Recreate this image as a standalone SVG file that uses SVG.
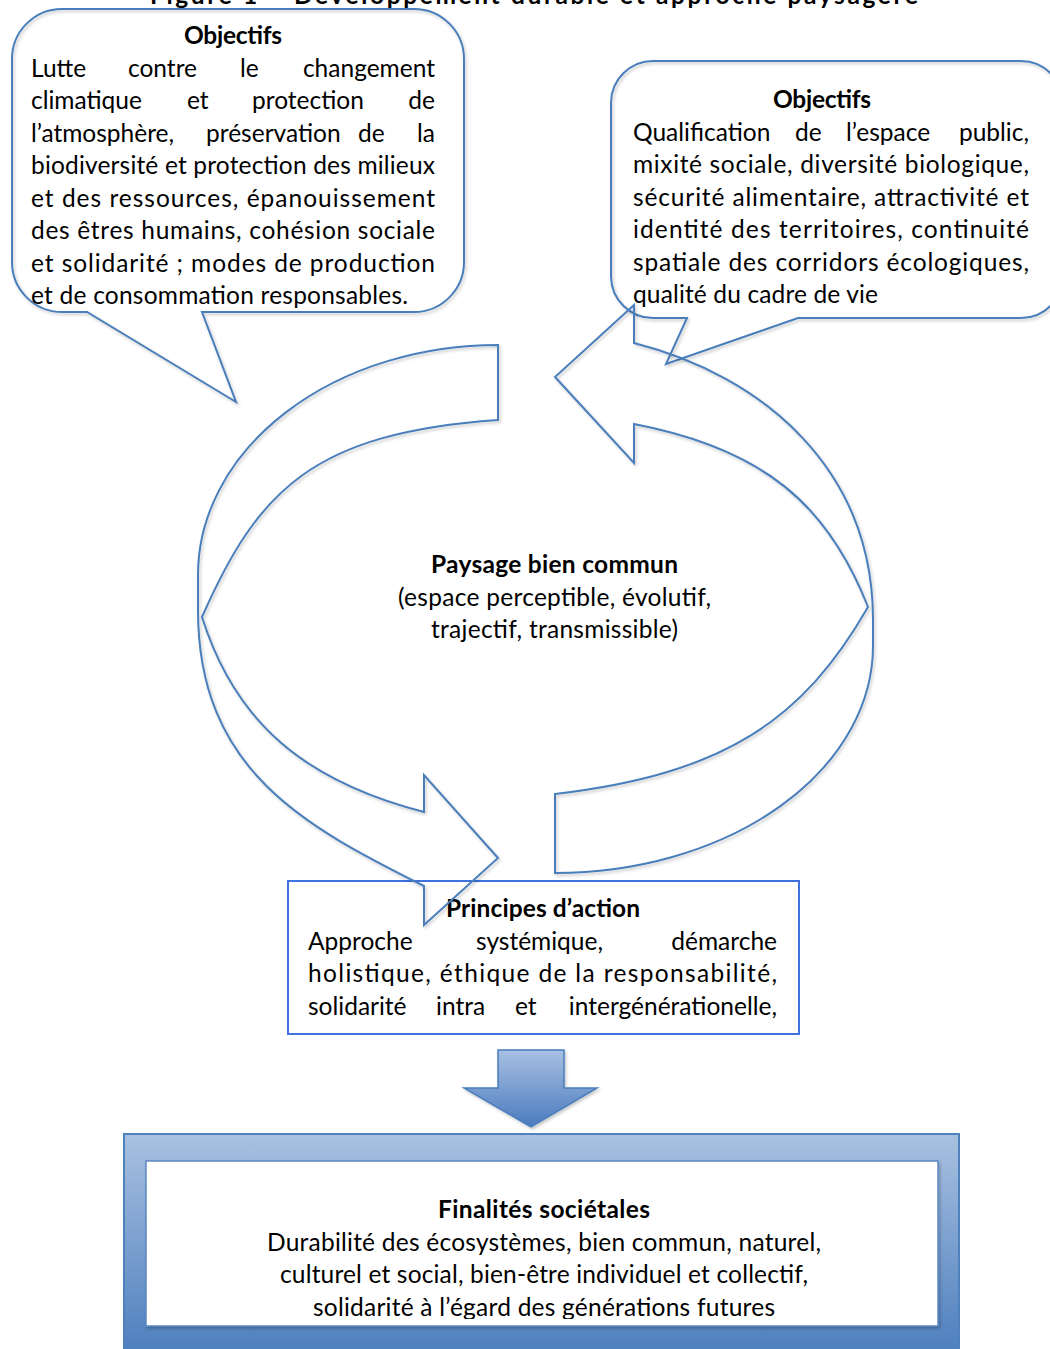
<svg xmlns="http://www.w3.org/2000/svg" width="1050" height="1349" viewBox="0 0 1050 1349">
<style>
.t{font-family:Lato,"Liberation Sans",sans-serif;font-size:24.5px;fill:#000}
.b{font-weight:bold}
.ln{fill:none;stroke:#4a7ebb;stroke-width:2;stroke-linejoin:miter}
</style>
<defs>
<filter id="sh" x="-10%" y="-10%" width="120%" height="120%">
<feDropShadow dx="1.5" dy="2" stdDeviation="1.5" flood-color="#000" flood-opacity="0.22"/>
</filter>
<linearGradient id="gBox" gradientUnits="userSpaceOnUse" x1="0" y1="1134" x2="0" y2="1349">
<stop offset="0" stop-color="#a9c1e1"/><stop offset="1" stop-color="#4f80be"/>
</linearGradient>
<linearGradient id="gArr" gradientUnits="userSpaceOnUse" x1="0" y1="1050" x2="0" y2="1127">
<stop offset="0" stop-color="#a8c0e2"/><stop offset="1" stop-color="#4a7bbf"/>
</linearGradient>
<clipPath id="clipFin"><rect x="146" y="1161" width="792" height="158"/></clipPath>
</defs>
<rect width="1050" height="1349" fill="#fff"/>

<g id="title">
<text class="t b" x="534" y="4" text-anchor="middle" textLength="768">Figure 1 – Développement durable et approche paysagère</text>
</g>

<g id="callout-left">
<path class="ln" filter="url(#sh)" fill="#fff" d="M62,9 H414 A50,50 0 0 1 464,59 V262 A50,50 0 0 1 414,312 H202 L236,402 L87,312 H62 A50,50 0 0 1 12,262 V59 A50,50 0 0 1 62,9 Z"/>
<text class="t b" x="233" y="44" text-anchor="middle" textLength="98">Objectifs</text>
<text class="t" y="77"><tspan x="31">Lutte</tspan><tspan x="128">contre</tspan><tspan x="240">le</tspan></text>
<text class="t" x="435" y="77" text-anchor="end">changement</text>
<text class="t" y="109"><tspan x="31">climatique</tspan><tspan x="187">et</tspan><tspan x="252">protection</tspan></text>
<text class="t" x="435" y="109" text-anchor="end">de</text>
<text class="t" y="142"><tspan x="31">l’atmosphère,</tspan><tspan x="206">préservation</tspan><tspan x="358">de</tspan></text>
<text class="t" x="435" y="142" text-anchor="end">la</text>
<text class="t" x="31" y="174" textLength="404">biodiversité et protection des milieux</text>
<text class="t" x="31" y="207" textLength="404">et des ressources, épanouissement</text>
<text class="t" x="31" y="239" textLength="404">des êtres humains, cohésion sociale</text>
<text class="t" x="31" y="272" textLength="404">et solidarité ; modes de production</text>
<text class="t" x="31" y="304" textLength="377">et de consommation responsables.</text>
</g>

<g id="callout-right">
<path class="ln" filter="url(#sh)" fill="#fff" d="M653,61 H1021 A42,42 0 0 1 1063,103 V276 A42,42 0 0 1 1021,318 H798 L666,364 L687,318 H653 A42,42 0 0 1 611,276 V103 A42,42 0 0 1 653,61 Z"/>
<text class="t b" x="822" y="108" text-anchor="middle" textLength="98">Objectifs</text>
<text class="t" y="141"><tspan x="633">Qualification</tspan><tspan x="795">de</tspan><tspan x="846">l’espace</tspan></text>
<text class="t" x="1029" y="141" text-anchor="end">public,</text>
<text class="t" x="633" y="173" textLength="396">mixité sociale, diversité biologique,</text>
<text class="t" x="633" y="206" textLength="396">sécurité alimentaire, attractivité et</text>
<text class="t" x="633" y="238" textLength="396">identité des territoires, continuité</text>
<text class="t" x="633" y="271" textLength="396">spatiale des corridors écologiques,</text>
<text class="t" x="633" y="303" textLength="245">qualité du cadre de vie</text>
</g>

<g id="paysage">
<text class="t b" x="554.5" y="573" text-anchor="middle" textLength="247">Paysage bien commun</text>
<text class="t" x="554.5" y="606" text-anchor="middle" textLength="313">(espace perceptible, évolutif,</text>
<text class="t" x="554.5" y="638" text-anchor="middle" textLength="247">trajectif, transmissible)</text>
</g>

<g id="principes">
<rect x="288" y="881" width="511" height="153" fill="#fff" stroke="#3d72e0" stroke-width="2"/>
<text class="t b" x="543" y="917" text-anchor="middle" textLength="194">Principes d’action</text>
<text class="t" y="950"><tspan x="308">Approche</tspan><tspan x="476">systémique,</tspan></text>
<text class="t" x="777" y="950" text-anchor="end">démarche</text>
<text class="t" x="308" y="982" textLength="469">holistique, éthique de la responsabilité,</text>
<text class="t" y="1015"><tspan x="308">solidarité</tspan><tspan x="436">intra</tspan><tspan x="515">et</tspan></text>
<text class="t" x="777" y="1015" text-anchor="end">intergénérationelle,</text>
</g>

<g id="finalites">
<rect x="124" y="1134" width="835" height="240" fill="url(#gBox)" stroke="#4f81bd" stroke-width="2"/>
<rect x="146" y="1161" width="792" height="165" fill="#fff" stroke="#5b88c4" stroke-width="1.5" filter="url(#sh)"/>
<g clip-path="url(#clipFin)">
<text class="t b" x="544" y="1218" text-anchor="middle" textLength="212">Finalités  sociétales</text>
<text class="t" x="544" y="1251" text-anchor="middle" textLength="554">Durabilité des écosystèmes, bien commun, naturel,</text>
<text class="t" x="544" y="1283" text-anchor="middle" textLength="528">culturel et social, bien-être individuel et collectif,</text>
<text class="t" x="544" y="1316" text-anchor="middle" textLength="462">solidarité à l’égard des générations futures</text>
</g>
</g>

<g id="connectors">
<path id="arrow-left" class="ln" filter="url(#sh)" d="M498,345 A300,230 0 0 0 198,575 L198,610 C198,770 304,826 424,886 L424,925 L498,858 L424,775 L424,812 C304,781 235,722 202,617 C258,490 313,433 498,420 Z"/>
<path id="arrow-right" class="ln" filter="url(#sh)" d="M555,873 A318,227 0 0 0 873,645 L873,620 C873,470 764,376 634,343 L634,305 L555,377 L634,463 L634,424 C764,449 828,505 868,607 C803,720 725,774 555,794 Z"/>
<path id="arrow-down" filter="url(#sh)" fill="url(#gArr)" stroke="#4a7ebb" stroke-width="1.5" d="M498,1050 H564 V1088 H597 L531,1127 L464,1088 H498 Z"/>
</g>
</svg>
